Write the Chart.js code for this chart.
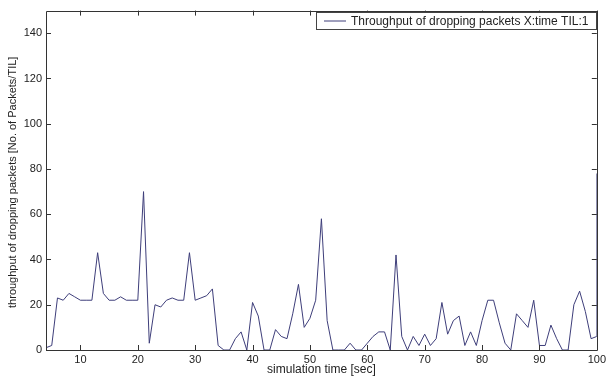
<!DOCTYPE html>
<html>
<head>
<meta charset="utf-8">
<script src="https://cdn.jsdelivr.net/npm/chart.js@4.4.1/dist/chart.umd.min.js"></script>
<style>
  html, body { margin: 0; padding: 0; background: #fff; }
  #wrap { width: 609px; height: 381px; position: relative; }
</style>
</head>
<body>
<div id="wrap"><canvas id="c"></canvas></div>
<script>
// Throughput of dropping packets vs simulation time (MATLAB style plot)

const seriesLabel = 'Throughput of dropping packets X:time TIL:1';
const yTitle = 'throughput of dropping packets [No. of Packets/TIL]';
const times = [
  4, 5, 6, 7, 8, 9, 10, 11, 12, 13, 14, 15, 16, 17, 18, 19, 20,
  21, 22, 23, 24, 25, 26, 27, 28, 29, 30, 31, 32, 33, 34, 35, 36, 37, 38, 39, 40,
  41, 42, 43, 44, 45, 46, 47, 48, 49, 50, 51, 52, 53, 54, 55, 56, 57, 58, 59, 60,
  61, 62, 63, 64, 65, 66, 67, 68, 69, 70, 71, 72, 73, 74, 75, 76, 77, 78, 79, 80,
  81, 82, 83, 84, 85, 86, 87, 88, 89, 90, 91, 92, 93, 94, 95, 96, 97, 98, 99, 100, 100
];
const dropped = [
  1, 2, 23, 22, 25, 23.5, 22, 22, 22, 43, 25, 22, 22, 23.5, 22, 22, 22,
  70, 3, 20, 19, 22, 23, 22, 22, 43, 22, 23, 24, 27, 2, 0, 0, 5, 8, 0, 21,
  15, 0, 0, 9, 6, 5, 16, 29, 10, 14, 22, 58, 13, 0, 0, 0, 3, 0, 0, 3,
  6, 8, 8, 0, 42, 6, 0, 6, 2, 7, 2, 5, 21, 7, 13, 15, 2, 8, 2, 13,
  22, 22, 12, 3, 0, 16, 13, 10, 22, 2, 2, 11, 5, 0, 0, 20, 26, 17, 5, 6, 78
];
const xTicks = [10, 20, 30, 40, 50, 60, 70, 80, 90, 100];
const yTicks = [0, 20, 40, 60, 80, 100, 120, 140];

const FONT = '"Liberation Sans", Arial, Helvetica, sans-serif';
const INK = '#222';
const LINE = '#3e3e7a';

// box + inward ticks on all four sides, legend inside the axes, y label
const matlabAxes = {
  id: 'matlabAxes',
  afterDatasetsDraw(chart) {
    const { ctx, chartArea: a, scales: { x, y } } = chart;
    ctx.save();
    ctx.strokeStyle = '#333';
    ctx.lineWidth = 1;
    ctx.beginPath();
    ctx.rect(Math.round(a.left) + 0.5, Math.round(a.top) + 0.5,
      Math.round(a.right - a.left), Math.round(a.bottom - a.top));
    xTicks.forEach(v => {
      const px = Math.round(x.getPixelForValue(v)) + 0.5;
      ctx.moveTo(px, a.bottom); ctx.lineTo(px, a.bottom - 5);
      ctx.moveTo(px, a.top); ctx.lineTo(px, a.top + 5);
    });
    yTicks.forEach(v => {
      const py = Math.round(y.getPixelForValue(v)) + 0.5;
      ctx.moveTo(a.left, py); ctx.lineTo(a.left + 5, py);
      ctx.moveTo(a.right, py); ctx.lineTo(a.right - 5, py);
    });
    ctx.stroke();

    // legend box
    const bx = 316.5, by = 12.5, bw = 280, bh = 17;
    ctx.fillStyle = '#fff';
    ctx.fillRect(bx, by, bw, bh);
    ctx.strokeStyle = '#444';
    ctx.strokeRect(bx, by, bw, bh);
    ctx.strokeStyle = LINE;
    ctx.beginPath();
    ctx.moveTo(324, by + 8.5); ctx.lineTo(346, by + 8.5);
    ctx.stroke();
    ctx.fillStyle = INK;
    ctx.font = '12px ' + FONT;
    ctx.textBaseline = 'middle';
    ctx.fillText(seriesLabel, 351, by + 9);

    // rotated y label
    ctx.translate(13, (a.top + a.bottom) / 2 + 2);
    ctx.rotate(-Math.PI / 2);
    ctx.font = '11px ' + FONT;
    ctx.textAlign = 'center';
    ctx.fillText(yTitle, 0, 0);
    ctx.restore();
  }
};

const points = times.map((t, i) => ({ x: t, y: dropped[i] }));

new Chart(document.getElementById('c'), {
  type: 'scatter',
  data: {
    datasets: [{
      label: seriesLabel,
      data: points,
      showLine: true,
      borderColor: LINE,
      borderWidth: 1,
      pointRadius: 0,
      tension: 0,
    }],
  },
  options: {
    responsive: true,
    maintainAspectRatio: false,
    animation: false,
    layout: { padding: { top: 7, right: 8, bottom: 0, left: 0 } },
    plugins: {
      legend: { display: false },
      tooltip: { enabled: false },
    },
    scales: {
      x: {
        type: 'linear',
        min: 4,
        max: 100,
        afterBuildTicks: s => { s.ticks = xTicks.map(v => ({ value: v })); },
        afterFit: s => { s.height = 31; },
        grid: { display: false, drawTicks: false },
        border: { display: false },
        ticks: { color: INK, font: { family: FONT, size: 11 }, padding: 3, maxRotation: 0 },
        title: {
          display: true,
          text: 'simulation time [sec]',
          color: INK,
          font: { family: FONT, size: 12 },
          padding: { top: 0, bottom: 4 },
        },
      },
      y: {
        min: 0,
        max: 150,
        afterBuildTicks: s => { s.ticks = yTicks.map(v => ({ value: v })); },
        afterFit: s => { s.width = 46; },
        grid: { display: false, drawTicks: false },
        border: { display: false },
        ticks: { color: INK, font: { family: FONT, size: 11 }, padding: 4 },
        title: { display: false },
      },
    },
  },
  plugins: [matlabAxes],
});
</script>
</body>
</html>
